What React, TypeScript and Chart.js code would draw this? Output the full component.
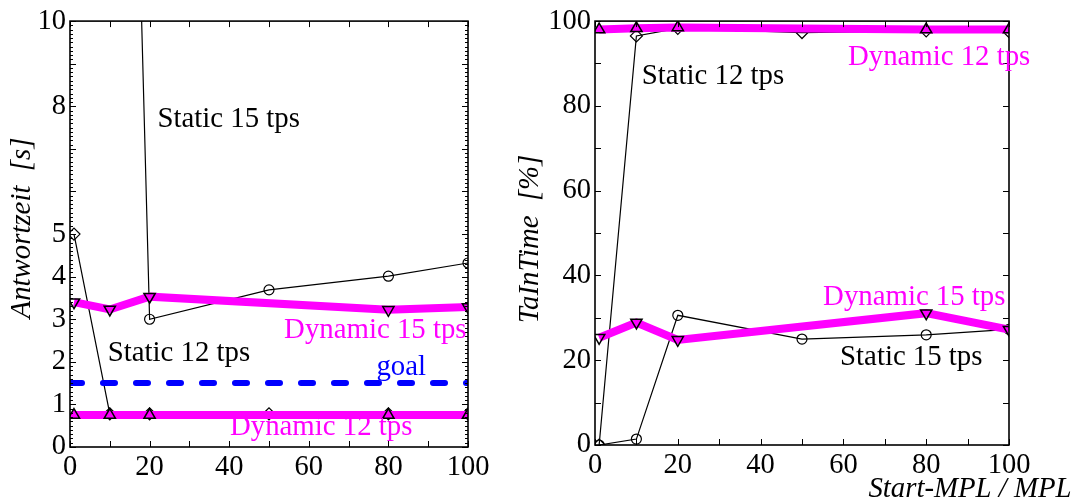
import React, { useEffect, useRef } from 'react';
import { Chart, registerables } from 'chart.js';

Chart.register(...registerables);

// ---------- data ----------
const MPL_STATIC = [1, 10, 20, 50, 80, 100];
const MPL_DYNAMIC = [1, 10, 20, 80, 100];
const GOAL_X = [0, 100];

// Antwortzeit [s]
const respStatic15 = [40, 38, 3.0, 3.69, 4.01, 4.32];
const respStatic12 = [5.0, 0.78, 0.78, 0.78, 0.78, 0.78];
const respDynamic15 = [3.4, 3.23, 3.53, 3.22, 3.29];
const respDynamic12 = [0.75, 0.75, 0.75, 0.75, 0.75];
const respGoal = [1.5, 1.5];

// TaInTime [%]
const inTimeStatic12 = [0, 96.5, 98.3, 97.3, 97.7, 97.5];
const inTimeStatic15 = [0, 1.4, 30.6, 25.0, 26.0, 27.3];
const inTimeDynamic12 = [98, 98.3, 98.5, 98, 98];
const inTimeDynamic15 = [25.3, 28.9, 24.8, 31.1, 27.2];

// tick labels
const xTickLabels = [0, 20, 40, 60, 80, 100];
const respTickLabels = [0, 1, 2, 3, 4, 5, 8, 10];
const inTimeTickLabels = [0, 20, 40, 60, 80, 100];

// series names
const NAME_S15 = 'Static 15 tps';
const NAME_S12 = 'Static 12 tps';
const NAME_D15 = 'Dynamic 15 tps';
const NAME_D12 = 'Dynamic 12 tps';
const NAME_GOAL = 'goal';

const BLACK = '#000000';
const MAGENTA = '#ff00ff';
const BLUE = '#0000ff';
const FONT = '"Liberation Serif", "Times New Roman", serif';

// in-plot labels (data coordinates)
const respLabels = [
  { text: NAME_S15, x: 22, y: 7.7, color: BLACK },
  { text: NAME_S12, x: 9.5, y: 2.2, color: BLACK },
  { text: NAME_D15, x: 53.8, y: 2.74, color: MAGENTA },
  { text: NAME_GOAL, x: 77, y: 1.87, color: BLUE },
  { text: NAME_D12, x: 40.2, y: 0.45, color: MAGENTA },
];
const inTimeLabels = [
  { text: NAME_S12, x: 11.3, y: 87, color: BLACK },
  { text: NAME_D12, x: 61.1, y: 91.5, color: MAGENTA },
  { text: NAME_D15, x: 55.1, y: 34.7, color: MAGENTA },
  { text: NAME_S15, x: 59.2, y: 20.7, color: BLACK },
];

const pts = (xs: number[], ys: number[]) => xs.map((x, i) => ({ x, y: ys[i] }));

const staticStyle = (marker: string) => ({
  borderColor: BLACK,
  borderWidth: 1.2,
  pointStyle: marker,
  pointRadius: marker === 'rectRot' ? 6 : 5,
  pointBorderColor: BLACK,
  pointBackgroundColor: 'rgba(0,0,0,0)',
  pointBorderWidth: 1.2,
  tension: 0,
  order: 3,
});

const dynStyle = (down: boolean) => ({
  borderColor: MAGENTA,
  borderWidth: 8,
  pointStyle: 'triangle',
  pointRotation: down ? 180 : 0,
  pointRadius: 6.5,
  pointBorderColor: BLACK,
  pointBackgroundColor: down ? 'rgba(0,0,0,0)' : MAGENTA,
  pointBorderWidth: 1.5,
  tension: 0,
  order: 2,
});

const framePlugin = {
  id: 'frameTicks',
  afterDatasetsDraw(chart: any, _a: any, opts: any) {
    const { ctx, chartArea, scales } = chart;
    const { left, right, top, bottom } = chartArea;
    const x = scales.x;
    const y = scales.y;
    ctx.save();
    ctx.strokeStyle = BLACK;
    ctx.lineWidth = 1;
    const line = (x1: number, y1: number, x2: number, y2: number) => {
      ctx.beginPath();
      ctx.moveTo(x1, y1);
      ctx.lineTo(x2, y2);
      ctx.stroke();
    };
    const nx = Math.round((x.max - x.min) / opts.xStep);
    for (let i = 0; i <= nx; i++) {
      const px = Math.round(x.getPixelForValue(x.min + i * opts.xStep)) + 0.5;
      line(px, bottom, px, bottom - 6);
      line(px, top, px, top + 6);
    }
    const ny = Math.round((y.max - y.min) / opts.yMinor);
    const ratio = Math.round(opts.yMajor / opts.yMinor);
    for (let i = 0; i <= ny; i++) {
      const py = Math.round(y.getPixelForValue(y.min + i * opts.yMinor)) + 0.5;
      const len = i % ratio === 0 ? 6 : 3;
      line(left, py, left + len, py);
      line(right, py, right - len, py);
    }
    ctx.lineWidth = 1.6;
    ctx.strokeRect(left, top, right - left, bottom - top);

    // in-plot labels
    ctx.font = `28.8px ${FONT}`;
    ctx.textAlign = 'left';
    ctx.textBaseline = 'middle';
    for (const l of opts.labels) {
      ctx.fillStyle = l.color;
      ctx.fillText(l.text, x.getPixelForValue(l.x), y.getPixelForValue(l.y));
    }
    // y title
    ctx.save();
    ctx.translate(opts.yTitleX, opts.yTitleY);
    ctx.rotate(-Math.PI / 2);
    ctx.font = `italic 28.8px ${FONT}`;
    ctx.textAlign = 'center';
    ctx.fillStyle = BLACK;
    ctx.fillText(opts.yTitle, 0, 0);
    ctx.restore();
    if (opts.xTitle) {
      ctx.font = `italic 28.8px ${FONT}`;
      ctx.textAlign = 'center';
      ctx.textBaseline = 'middle';
      ctx.fillStyle = BLACK;
      ctx.fillText(opts.xTitle, opts.xTitleX, opts.xTitleY);
    }
    ctx.restore();
  },
};

function makeConfig(p: any) {
  return {
    type: 'line',
    data: { datasets: p.datasets },
    plugins: [framePlugin],
    options: {
      animation: false,
      responsive: false,
      devicePixelRatio: 1,
      layout: { padding: p.padding },
      plugins: {
        legend: { display: false },
        tooltip: { enabled: false },
        frameTicks: p.frame,
      },
      scales: {
        x: {
          type: 'linear',
          min: 0,
          max: 100,
          grid: { display: false, drawTicks: false },
          border: { display: false },
          afterBuildTicks: (s: any) => {
            s.ticks = xTickLabels.map((v) => ({ value: v }));
          },
          afterFit: (s: any) => {
            s.height = p.xHeight;
          },
          ticks: { color: BLACK, padding: 3, maxRotation: 0, font: { family: FONT, size: 28.5 } },
        },
        y: {
          type: 'linear',
          min: p.yMin,
          max: p.yMax,
          grid: { display: false, drawTicks: false },
          border: { display: false },
          afterBuildTicks: (s: any) => {
            s.ticks = p.yTicks.map((v: number) => ({ value: v }));
          },
          afterFit: (s: any) => {
            s.width = p.yWidth;
          },
          ticks: { color: BLACK, padding: 4, font: { family: FONT, size: 28.5 } },
        },
      },
    },
  };
}

function ChartBox({ config, left, width, height }: any) {
  const ref = useRef<HTMLCanvasElement>(null);
  useEffect(() => {
    const chart = new Chart(ref.current as HTMLCanvasElement, config);
    return () => chart.destroy();
  }, []);
  return (
    <canvas
      ref={ref}
      width={width}
      height={height}
      style={{ position: 'absolute', left, top: 0, width, height }}
    />
  );
}

const respConfig = makeConfig({
  padding: { left: 0, top: 20, right: 32, bottom: 0 },
  xHeight: 54,
  yWidth: 70,
  yMin: 0,
  yMax: 10,
  yTicks: respTickLabels,
  frame: {
    xStep: 10, yMajor: 1, yMinor: 0.1, labels: respLabels,
    yTitle: 'Antwortzeit  [s]', yTitleX: 22, yTitleY: 228,
  },
  datasets: [
    { label: NAME_GOAL, data: pts(GOAL_X, respGoal), borderColor: BLUE, borderWidth: 6, borderDash: [12, 21], borderCapStyle: 'round', pointRadius: 0, order: 1 },
    { label: NAME_D12, data: pts(MPL_DYNAMIC, respDynamic12), ...dynStyle(false) },
    { label: NAME_D15, data: pts(MPL_DYNAMIC, respDynamic15), ...dynStyle(true) },
    { label: NAME_S12, data: pts(MPL_STATIC, respStatic12), ...staticStyle('rectRot') },
    { label: NAME_S15, data: pts(MPL_STATIC, respStatic15), ...staticStyle('circle') },
  ],
});

const inTimeConfig = makeConfig({
  padding: { left: 0, top: 19, right: 65, bottom: 0 },
  xHeight: 56,
  yWidth: 95,
  yMin: 0,
  yMax: 100,
  yTicks: inTimeTickLabels,
  frame: {
    xStep: 10, yMajor: 10, yMinor: 10, labels: inTimeLabels,
    yTitle: 'TaInTime  [%]', yTitleX: 30, yTitleY: 239,
    xTitle: 'Start-MPL / MPL', xTitleX: 470, xTitleY: 489,
  },
  datasets: [
    { label: NAME_D12, data: pts(MPL_DYNAMIC, inTimeDynamic12), ...dynStyle(false) },
    { label: NAME_D15, data: pts(MPL_DYNAMIC, inTimeDynamic15), ...dynStyle(true) },
    { label: NAME_S12, data: pts(MPL_STATIC, inTimeStatic12), ...staticStyle('rectRot') },
    { label: NAME_S15, data: pts(MPL_STATIC, inTimeStatic15), ...staticStyle('circle') },
  ],
});

export default function App() {
  return (
    <div style={{ position: 'absolute', left: 0, top: 0, width: 1074, height: 501, background: '#fff' }}>
      <ChartBox config={respConfig} left={0} width={500} height={501} />
      <ChartBox config={inTimeConfig} left={500} width={574} height={501} />
    </div>
  );
}
